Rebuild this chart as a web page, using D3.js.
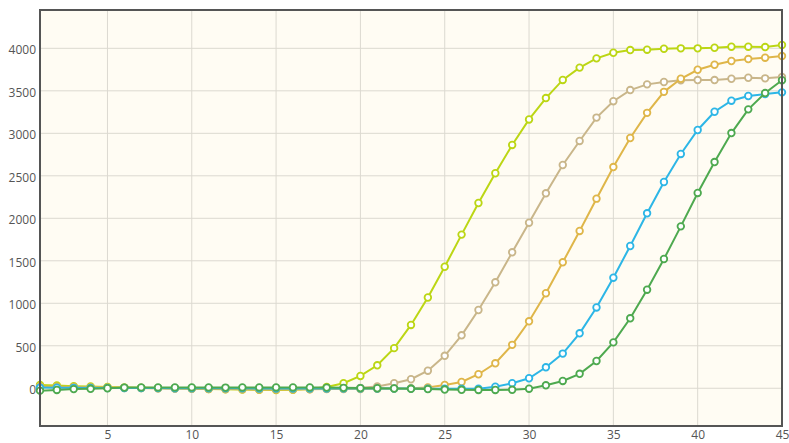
<!DOCTYPE html>
<html>
<head>
<meta charset="utf-8">
<script src="https://cdnjs.cloudflare.com/ajax/libs/d3/7.8.5/d3.min.js"></script>
<style>
body { margin: 0; background: #fff; }
svg { display: block; }
.tick text { font-family: "Open Sans", sans-serif; font-size: 12px; fill: #555; }
</style>
</head>
<body>
<svg width="789" height="443"></svg>
<script>
var cycles = [1,2,3,4,5,6,7,8,9,10,11,12,13,14,15,16,17,18,19,20,21,22,23,24,25,26,27,28,29,30,31,32,33,34,35,36,37,38,39,40,41,42,43,44,45];

var limeValues = [38,32,25,20,15,10,5,2,0,-3,-8,-12,-15,-18,-20,-18,-10,15,59,145,270,472,745,1068,1430,1808,2180,2530,2863,3163,3415,3628,3773,3882,3948,3980,3984,3995,4000,4000,4007,4019,4019,4015,4039];
var tanValues = [15,12,10,8,5,3,2,0,-2,-4,-6,-8,-10,-12,-12,-10,-8,-5,0,5,20,59,106,207,382,623,921,1247,1600,1948,2294,2627,2910,3185,3378,3509,3576,3604,3624,3627,3627,3642,3654,3647,3662];
var goldValues = [22,18,14,10,8,5,3,0,-3,-5,-8,-10,-12,-15,-15,-15,-12,-10,-10,-8,-5,-3,0,10,39,74,165,294,511,788,1118,1482,1851,2231,2603,2945,3241,3488,3642,3748,3807,3851,3874,3890,3909];
var blueValues = [8,6,5,4,3,3,2,2,1,0,0,-1,-1,-2,-2,-2,-3,-3,-3,-3,-4,-4,-4,-5,-5,-5,-5,19,59,118,247,408,647,951,1301,1674,2059,2427,2757,3039,3254,3384,3439,3462,3482];
var greenValues = [-28,-20,-10,-6,0,8,10,10,10,10,10,8,10,10,10,10,10,8,5,2,0,-3,-6,-10,-15,-18,-20,-20,-18,-5,35,86,170,321,540,823,1160,1521,1905,2298,2662,3003,3282,3474,3625];

var seriesNames = ["lime", "tan", "gold", "blue", "green"];
var seriesColors = ["#bcd614", "#c9b68a", "#dfb649", "#2db6e6", "#4ea94f"];
var seriesValues = [limeValues, tanValues, goldValues, blueValues, greenValues];

var xTicks = [5,10,15,20,25,30,35,40,45];
var yTicks = [0,500,1000,1500,2000,2500,3000,3500,4000];

var margin = {top: 10, right: 7, bottom: 17, left: 40};
var width = 789 - margin.left - margin.right,
	height = 443 - margin.top - margin.bottom;

var svg = d3.select("svg");
var chart = svg.append("g")
	.attr("transform", "translate(" + margin.left + "," + margin.top + ")");

var x = d3.scaleLinear().domain([1, 45]).range([0, width]);
var y = d3.scaleLinear().domain([-444, 4451]).range([height, 0]);

// plot background
chart.append("rect")
	.attr("width", width)
	.attr("height", height)
	.attr("fill", "#fffcf3");

// grid
chart.append("g").selectAll("line").data(xTicks.slice(0, -1)).enter().append("line")
	.attr("x1", function(d){return x(d);})
	.attr("x2", function(d){return x(d);})
	.attr("y1", 0)
	.attr("y2", height)
	.attr("stroke", "#dcd9d0")
	.attr("stroke-width", 1);

chart.append("g").selectAll("line").data(yTicks).enter().append("line")
	.attr("x1", 0)
	.attr("x2", width)
	.attr("y1", function(d){return y(d);})
	.attr("y2", function(d){return y(d);})
	.attr("stroke", "#dcd9d0")
	.attr("stroke-width", 1);

// axes (labels only)
var xAxis = chart.append("g")
	.attr("transform", "translate(0," + height + ")")
	.call(d3.axisBottom(x).tickValues(xTicks).tickSize(0).tickPadding(4));
xAxis.select(".domain").remove();

var yAxis = chart.append("g")
	.call(d3.axisLeft(y).tickValues(yTicks).tickFormat(d3.format("d")).tickSize(0).tickPadding(4));
yAxis.select(".domain").remove();
yAxis.selectAll("text").attr("dy", "0.45em");

var valueLine = d3.line()
	.x(function(d){return x(d.cycle);})
	.y(function(d){return y(d.value);});

var lineLayer = chart.append("g");
for (var s = 0; s < seriesNames.length; s++) {
	var points = cycles.map(function(c, i){ return {cycle: c, value: seriesValues[s][i]}; });
	var group = lineLayer.append("g").attr("class", "series-" + seriesNames[s]);
	group.append("path")
		.datum(points)
		.attr("fill", "none")
		.attr("stroke", seriesColors[s])
		.attr("stroke-width", 2)
		.attr("d", valueLine);
	group.selectAll("circle").data(points).enter().append("circle")
		.attr("cx", function(d){return x(d.cycle);})
		.attr("cy", function(d){return y(d.value);})
		.attr("r", 3.3)
		.attr("fill", "#fff")
		.attr("stroke", seriesColors[s])
		.attr("stroke-width", 1.8);
}

// frame
chart.append("rect")
	.attr("width", width)
	.attr("height", height)
	.attr("fill", "none")
	.attr("stroke", "#555")
	.attr("stroke-width", 2);
</script>
</body>
</html>
